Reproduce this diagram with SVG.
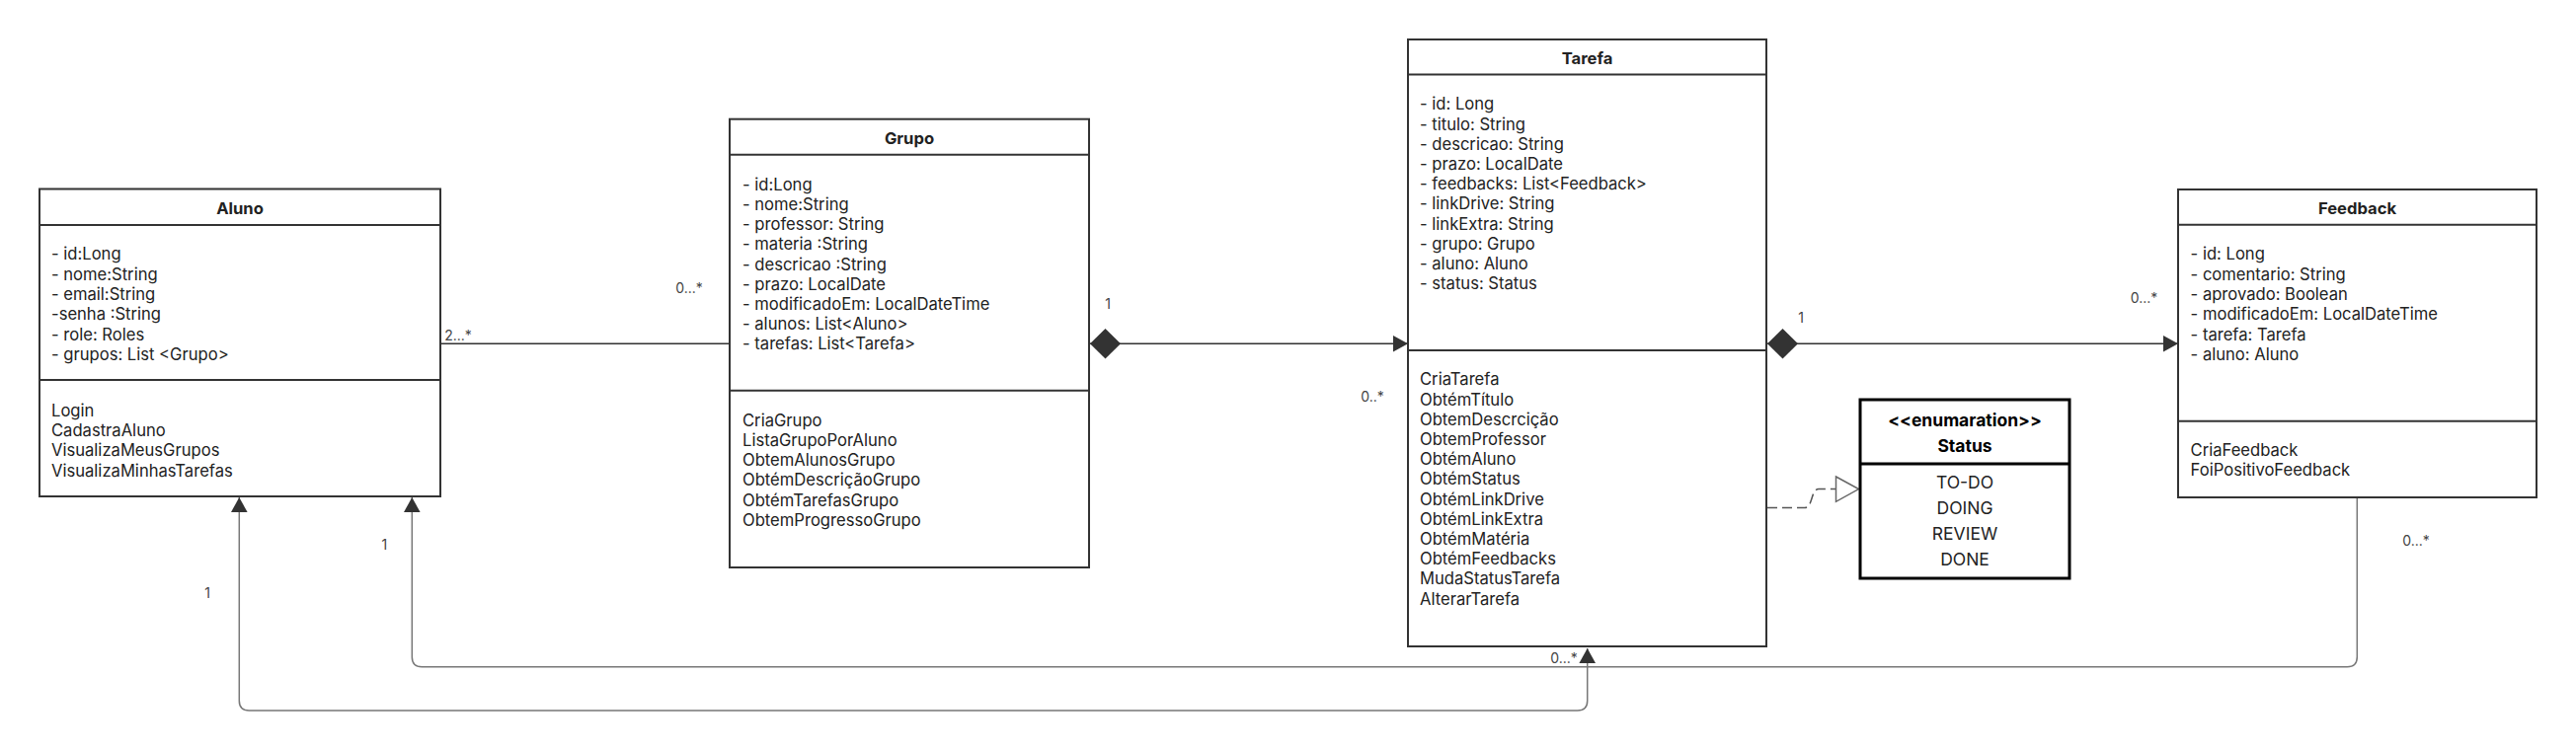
<svg xmlns="http://www.w3.org/2000/svg" width="2609" height="761" viewBox="0 0 2609 761">
<style>
.box{fill:#fff;stroke:#333;stroke-width:2}
.sep{stroke:#333;stroke-width:2}
.enum{fill:#fff;stroke:#000;stroke-width:3}
.esep{stroke:#000;stroke-width:3}
text{font-family:Inter,"Noto Sans","Liberation Sans",sans-serif;fill:#222}
.t{font-size:16.6px;font-weight:700;text-anchor:middle}
.a{font-size:16.6px}
.e{font-size:17.5px;text-anchor:middle}
.eb{font-size:17.5px;font-weight:700;text-anchor:middle;fill:#000}
.m{font-size:14px;fill:#444;text-anchor:middle}
.ln{fill:none;stroke:#333;stroke-width:1.5}
.lg{fill:none;stroke:#777;stroke-width:1.5}
.dash{fill:none;stroke:#555;stroke-width:1.5;stroke-dasharray:10 5}
</style>
<defs>
<marker id="arr" markerUnits="userSpaceOnUse" markerWidth="16" markerHeight="18" refX="15" refY="8.3" orient="auto-start-reverse">
<path d="M0,0 L15,8.3 L0,16.6 z" fill="#333"/>
</marker>
<marker id="dia" markerUnits="userSpaceOnUse" markerWidth="32" markerHeight="32" refX="0" refY="15.3" orient="auto">
<path d="M0,15.3 L15.5,0 L31,15.3 L15.5,30.6 z" fill="#333"/>
</marker>
</defs>

<g id="connectors">
<path class="ln" d="M446 348.3 H739"/>
<path class="ln" d="M1104 348.3 H1426" marker-start="url(#dia)" marker-end="url(#arr)"/>
<path class="ln" d="M1790 348.3 H2206" marker-start="url(#dia)" marker-end="url(#arr)"/>
<path class="dash" d="M1790 514.5 H1828 C1836 514.5 1834 495.5 1842 495.5 H1859"/>
<path d="M1859.5 483 L1882.5 495.6 L1859.5 508.3 z" fill="#fff" stroke="#666" stroke-width="1.5"/>
<path class="lg" d="M242.3 504 V710 Q242.3 720 252.3 720 H1597.7 Q1607.7 720 1607.7 710 V657" marker-start="url(#arr)" marker-end="url(#arr)"/>
<path class="lg" d="M417.3 504 V665.7 Q417.3 675.7 427.3 675.7 H2377.3 Q2387.3 675.7 2387.3 665.7 V504" marker-start="url(#arr)"/>
<text class="m" x="464" y="345">2...*</text>
<text class="m" x="698" y="296.5">0...*</text>
<text class="m" x="1122" y="313">1</text>
<text class="m" x="1390" y="406.5">0..*</text>
<text class="m" x="1824" y="327">1</text>
<text class="m" x="2171.5" y="307">0...*</text>
<text class="m" x="2447" y="553">0...*</text>
<text class="m" x="1584" y="671.5">0...*</text>
<text class="m" x="389.3" y="557">1</text>
<text class="m" x="210" y="606">1</text>
</g>

<g id="aluno">
<rect class="box" x="40" y="191.5" width="406" height="311.5"/>
<line class="sep" x1="40" y1="228" x2="446" y2="228"/>
<line class="sep" x1="40" y1="385" x2="446" y2="385"/>
<text class="t" x="243" y="217">Aluno</text>
<text class="a" x="52" y="263.3">- id:Long</text>
<text class="a" x="52" y="283.6">- nome:String</text>
<text class="a" x="52" y="303.9">- email:String</text>
<text class="a" x="52" y="324.2">-senha :String</text>
<text class="a" x="52" y="344.5">- role: Roles</text>
<text class="a" x="52" y="364.8">- grupos: List &lt;Grupo&gt;</text>
<text class="a" x="52" y="421.7">Login</text>
<text class="a" x="52" y="442">CadastraAluno</text>
<text class="a" x="52" y="462.3">VisualizaMeusGrupos</text>
<text class="a" x="52" y="482.6">VisualizaMinhasTarefas</text>
</g>

<g id="grupo">
<rect class="box" x="739" y="120.7" width="364" height="454.3"/>
<line class="sep" x1="739" y1="156.7" x2="1103" y2="156.7"/>
<line class="sep" x1="739" y1="395.7" x2="1103" y2="395.7"/>
<text class="t" x="921" y="146">Grupo</text>
<text class="a" x="752" y="192.7">- id:Long</text>
<text class="a" x="752" y="212.9">- nome:String</text>
<text class="a" x="752" y="233.1">- professor: String</text>
<text class="a" x="752" y="253.3">- materia :String</text>
<text class="a" x="752" y="273.5">- descricao :String</text>
<text class="a" x="752" y="293.7">- prazo: LocalDate</text>
<text class="a" x="752" y="313.9">- modificadoEm: LocalDateTime</text>
<text class="a" x="752" y="334.1">- alunos: List&lt;Aluno&gt;</text>
<text class="a" x="752" y="354.3">- tarefas: List&lt;Tarefa&gt;</text>
<text class="a" x="752" y="431.7">CriaGrupo</text>
<text class="a" x="752" y="451.9">ListaGrupoPorAluno</text>
<text class="a" x="752" y="472.1">ObtemAlunosGrupo</text>
<text class="a" x="752" y="492.3">ObtémDescriçãoGrupo</text>
<text class="a" x="752" y="512.5">ObtémTarefasGrupo</text>
<text class="a" x="752" y="532.7">ObtemProgressoGrupo</text>
</g>

<g id="tarefa">
<rect class="box" x="1426" y="40" width="363" height="615"/>
<line class="sep" x1="1426" y1="75.5" x2="1789" y2="75.5"/>
<line class="sep" x1="1426" y1="355" x2="1789" y2="355"/>
<text class="t" x="1607.5" y="65">Tarefa</text>
<text class="a" x="1438" y="111.4">- id: Long</text>
<text class="a" x="1438" y="131.6">- titulo: String</text>
<text class="a" x="1438" y="151.8">- descricao: String</text>
<text class="a" x="1438" y="172">- prazo: LocalDate</text>
<text class="a" x="1438" y="192.2">- feedbacks: List&lt;Feedback&gt;</text>
<text class="a" x="1438" y="212.4">- linkDrive: String</text>
<text class="a" x="1438" y="232.6">- linkExtra: String</text>
<text class="a" x="1438" y="252.8">- grupo: Grupo</text>
<text class="a" x="1438" y="273">- aluno: Aluno</text>
<text class="a" x="1438" y="293.2">- status: Status</text>
<text class="a" x="1438" y="390.3">CriaTarefa</text>
<text class="a" x="1438" y="410.5">ObtémTítulo</text>
<text class="a" x="1438" y="430.7">ObtemDescrcição</text>
<text class="a" x="1438" y="450.9">ObtemProfessor</text>
<text class="a" x="1438" y="471.1">ObtémAluno</text>
<text class="a" x="1438" y="491.3">ObtémStatus</text>
<text class="a" x="1438" y="511.5">ObtémLinkDrive</text>
<text class="a" x="1438" y="531.7">ObtémLinkExtra</text>
<text class="a" x="1438" y="551.9">ObtémMatéria</text>
<text class="a" x="1438" y="572.1">ObtémFeedbacks</text>
<text class="a" x="1438" y="592.3">MudaStatusTarefa</text>
<text class="a" x="1438" y="612.5">AlterarTarefa</text>
</g>

<g id="feedback">
<rect class="box" x="2206" y="192" width="363" height="312"/>
<line class="sep" x1="2206" y1="227.7" x2="2569" y2="227.7"/>
<line class="sep" x1="2206" y1="426.7" x2="2569" y2="426.7"/>
<text class="t" x="2387.5" y="217">Feedback</text>
<text class="a" x="2218.6" y="263.3">- id: Long</text>
<text class="a" x="2218.6" y="283.6">- comentario: String</text>
<text class="a" x="2218.6" y="303.9">- aprovado: Boolean</text>
<text class="a" x="2218.6" y="324.2">- modificadoEm: LocalDateTime</text>
<text class="a" x="2218.6" y="344.5">- tarefa: Tarefa</text>
<text class="a" x="2218.6" y="364.8">- aluno: Aluno</text>
<text class="a" x="2218.6" y="462">CriaFeedback</text>
<text class="a" x="2218.6" y="482.3">FoiPositivoFeedback</text>
</g>

<g id="status">
<rect class="enum" x="1884" y="405" width="212" height="181"/>
<line class="esep" x1="1884" y1="470" x2="2096" y2="470"/>
<text class="eb" x="1990" y="431.5">&lt;&lt;enumaration&gt;&gt;</text>
<text class="eb" x="1990" y="457.5">Status</text>
<text class="e" x="1990" y="495">TO-DO</text>
<text class="e" x="1990" y="521">DOING</text>
<text class="e" x="1990" y="547">REVIEW</text>
<text class="e" x="1990" y="573">DONE</text>
</g>
</svg>
